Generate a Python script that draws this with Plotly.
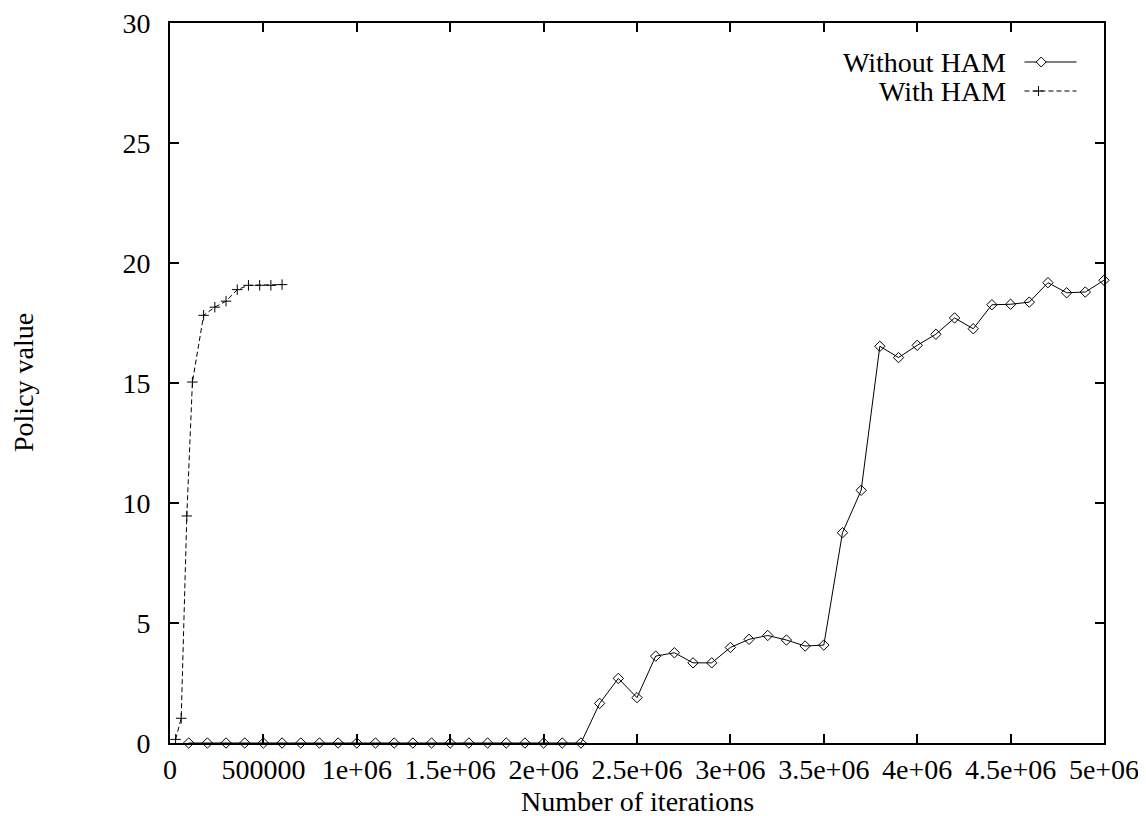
import plotly.graph_objects as go

# ---- data ----
iters_without = [100000, 200000, 300000, 400000, 500000, 600000, 700000, 800000, 900000, 1000000,
                 1100000, 1200000, 1300000, 1400000, 1500000, 1600000, 1700000, 1800000, 1900000, 2000000,
                 2100000, 2200000, 2300000, 2400000, 2500000, 2600000, 2700000, 2800000, 2900000, 3000000,
                 3100000, 3200000, 3300000, 3400000, 3500000, 3600000, 3700000, 3800000, 3900000, 4000000,
                 4100000, 4200000, 4300000, 4400000, 4500000, 4600000, 4700000, 4800000, 4900000, 5000000]
value_without = [0, 0, 0, 0, 0, 0, 0, 0, 0, 0,
                 0, 0, 0, 0, 0, 0, 0, 0, 0, 0,
                 0, 0, 1.65, 2.69, 1.89, 3.62, 3.76, 3.34, 3.34, 3.98,
                 4.32, 4.48, 4.29, 4.04, 4.08, 8.76, 10.53, 16.53, 16.06, 16.57,
                 17.03, 17.71, 17.26, 18.26, 18.28, 18.37, 19.18, 18.76, 18.79, 19.28]

iters_with = [30000, 60000, 90000, 120000, 180000, 240000, 300000, 360000, 420000, 480000, 540000, 600000]
value_with = [0.15, 1.03, 9.46, 15.04, 17.82, 18.16, 18.41, 18.89, 19.07, 19.07, 19.07, 19.1]

x_tickvals = [0, 500000, 1000000, 1500000, 2000000, 2500000, 3000000, 3500000, 4000000, 4500000, 5000000]
x_ticktext = ["0", "500000", "1e+06", "1.5e+06", "2e+06", "2.5e+06", "3e+06", "3.5e+06", "4e+06", "4.5e+06", "5e+06"]
y_tickvals = [0, 5, 10, 15, 20, 25, 30]

series_names = ["Without HAM", "With HAM"]
x_title = "Number of iterations"
y_title = "Policy value"

FONT = "Liberation Serif, Times New Roman, serif"
FS = 28

fig = go.Figure()
fig.add_trace(go.Scatter(
    x=iters_without, y=value_without, mode="lines+markers", name=series_names[0],
    line=dict(color="black", width=1),
    marker=dict(symbol="diamond-open", size=8, color="black", line=dict(width=1, color="black")),
    showlegend=False, cliponaxis=False))
fig.add_trace(go.Scatter(
    x=iters_with, y=value_with, mode="lines+markers", name=series_names[1],
    line=dict(color="black", width=1, dash="5px,3px"),
    marker=dict(symbol="cross-thin-open", size=7.5, color="black", line=dict(width=1, color="black")),
    showlegend=False, cliponaxis=False))

# manual legend (text right-aligned, line sample on the right side, as in the reference)
rows = [-39, -68]
for name, dy in zip(series_names, rows):
    fig.add_annotation(xref="paper", yref="paper", x=1, y=1, xshift=-96, yshift=dy,
                       xanchor="right", yanchor="middle", text=name, showarrow=False,
                       font=dict(family=FONT, size=FS, color="black"))
fig.add_shape(type="line", xref="paper", yref="paper", xsizemode="pixel", ysizemode="pixel",
              xanchor=1, yanchor=1, x0=-79.5, x1=-27.5, y0=rows[0], y1=rows[0],
              line=dict(color="black", width=1))
fig.add_shape(type="path", xref="paper", yref="paper", xsizemode="pixel", ysizemode="pixel",
              xanchor=1, yanchor=1,
              path=f"M -67.8,{rows[0]} L -62.8,{rows[0]+5} L -57.8,{rows[0]} L -62.8,{rows[0]-5} Z",
              fillcolor="white", line=dict(color="black", width=1))
fig.add_shape(type="line", xref="paper", yref="paper", xsizemode="pixel", ysizemode="pixel",
              xanchor=1, yanchor=1, x0=-79.5, x1=-27.5, y0=rows[1], y1=rows[1],
              line=dict(color="black", width=1, dash="5px,3px"))
fig.add_shape(type="path", xref="paper", yref="paper", xsizemode="pixel", ysizemode="pixel",
              xanchor=1, yanchor=1,
              path=f"M -70.5,{rows[1]} H -60.5 M -65.5,{rows[1]+5} V {rows[1]-5}",
              line=dict(color="black", width=1))

# axis titles as annotations for exact placement
fig.add_annotation(xref="paper", yref="paper", x=0.5, y=0, yshift=-58,
                   xanchor="center", yanchor="middle", text=x_title, showarrow=False,
                   font=dict(family=FONT, size=FS, color="black"))
fig.add_annotation(xref="paper", yref="paper", x=0, y=0.5, xshift=-147,
                   xanchor="center", yanchor="middle", text=y_title, textangle=-90, showarrow=False,
                   font=dict(family=FONT, size=FS, color="black"))

# page body has an 8px margin: shift the figure accordingly
fig.update_layout(
    width=1138, height=808,
    margin=dict(l=162, r=41.5, t=14.5, b=73),
    paper_bgcolor="white", plot_bgcolor="white",
    font=dict(family=FONT, size=FS, color="black"),
    showlegend=False,
)
fig.update_xaxes(
    range=[0, 5000000], tickvals=x_tickvals, ticktext=x_ticktext,
    ticks="inside", ticklen=9, tickwidth=1.5, tickcolor="black",
    showline=True, linecolor="black", linewidth=2, mirror="ticks",
    showgrid=False, zeroline=False, ticklabelstandoff=0,
    automargin=False, ticklabeloverflow="allow",
)
fig.update_yaxes(
    range=[0, 30], tickvals=y_tickvals,
    ticks="inside", ticklen=9, tickwidth=1.5, tickcolor="black",
    showline=True, linecolor="black", linewidth=2, mirror="ticks",
    showgrid=False, zeroline=False, ticklabelstandoff=12,
    automargin=False, ticklabeloverflow="allow",
)

fig.write_html("out.html")
